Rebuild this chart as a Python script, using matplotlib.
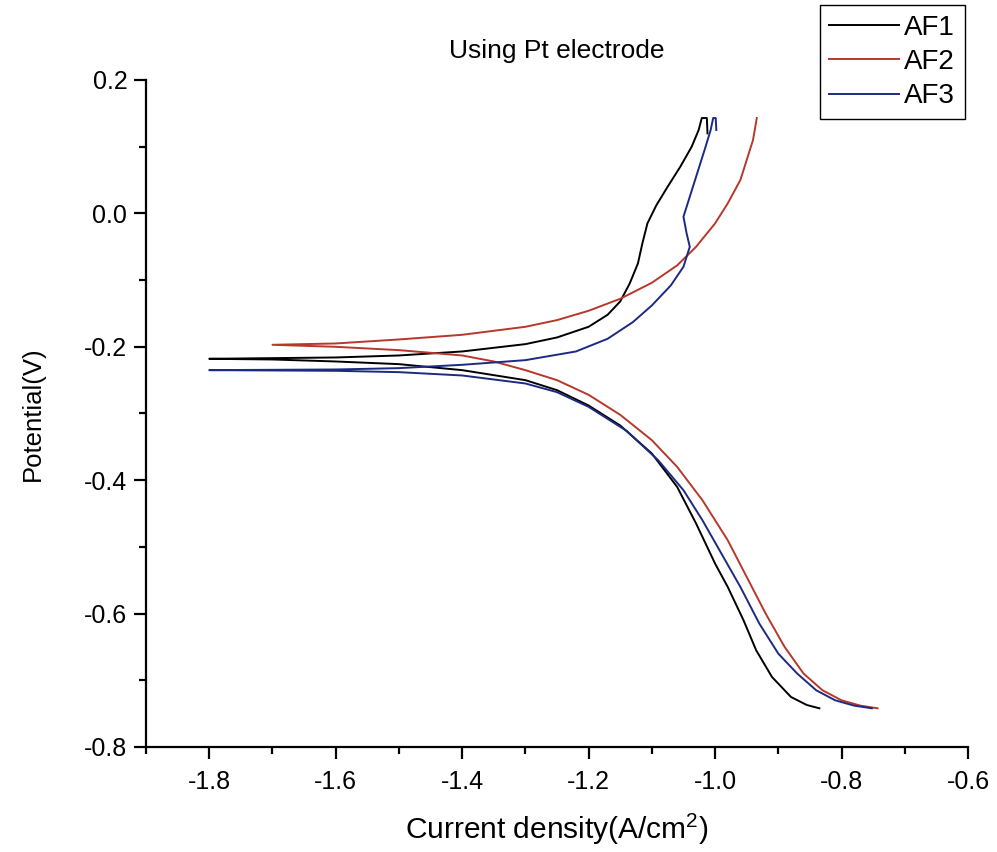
import matplotlib
matplotlib.use("Agg")
import matplotlib.pyplot as plt
from matplotlib.ticker import MultipleLocator

plt.rcParams['font.family'] = ['Liberation Sans', 'DejaVu Sans']
plt.rcParams['axes.unicode_minus'] = False
plt.rcParams['mathtext.fontset'] = 'custom'
plt.rcParams['mathtext.rm'] = 'Liberation Sans'
plt.rcParams['mathtext.default'] = 'regular'

# each curve: cathodic branch (bottom -> corrosion tip), then anodic branch (tip -> top)
af1_x = [-0.835, -0.855, -0.88, -0.91, -0.935, -0.955, -0.98, -1.00, -1.03, -1.06,
         -1.10, -1.15, -1.20, -1.25, -1.30, -1.40, -1.50, -1.60, -1.70, -1.80,
         -1.70, -1.60, -1.50, -1.40, -1.30, -1.25, -1.20, -1.17, -1.15, -1.135,
         -1.122, -1.115, -1.107, -1.093, -1.075, -1.055, -1.037, -1.026, -1.021, -1.013, -1.012]
af1_y = [-0.742, -0.737, -0.725, -0.695, -0.655, -0.610, -0.560, -0.525, -0.465, -0.410,
         -0.360, -0.318, -0.288, -0.265, -0.250, -0.235, -0.226, -0.222, -0.219, -0.218,
         -0.217, -0.216, -0.213, -0.207, -0.196, -0.186, -0.170, -0.152, -0.132, -0.105,
         -0.075, -0.045, -0.015, 0.012, 0.040, 0.070, 0.100, 0.125, 0.143, 0.143, 0.120]

af2_x = [-0.743, -0.77, -0.80, -0.83, -0.86, -0.89, -0.92, -0.95, -0.98, -1.02,
         -1.06, -1.10, -1.15, -1.20, -1.25, -1.30, -1.35, -1.40, -1.50, -1.60, -1.70,
         -1.60, -1.50, -1.40, -1.30, -1.25, -1.20, -1.15, -1.10, -1.06, -1.03,
         -1.00, -0.98, -0.96, -0.95, -0.94, -0.934]
af2_y = [-0.742, -0.738, -0.730, -0.715, -0.690, -0.650, -0.600, -0.545, -0.490, -0.430,
         -0.380, -0.340, -0.302, -0.272, -0.250, -0.235, -0.222, -0.213, -0.205, -0.200, -0.197,
         -0.195, -0.189, -0.182, -0.170, -0.160, -0.146, -0.128, -0.104, -0.078, -0.050,
         -0.015, 0.015, 0.050, 0.080, 0.110, 0.143]

af3_x = [-0.752, -0.78, -0.81, -0.84, -0.87, -0.90, -0.93, -0.96, -0.99, -1.02,
         -1.05, -1.09, -1.14, -1.20, -1.25, -1.30, -1.40, -1.50, -1.60, -1.80,
         -1.60, -1.50, -1.40, -1.30, -1.22, -1.17, -1.13, -1.10, -1.07, -1.05,
         -1.04, -1.045, -1.05, -1.045, -1.035, -1.025, -1.015, -1.007, -1.003, -0.999, -0.998]
af3_y = [-0.742, -0.738, -0.730, -0.715, -0.690, -0.660, -0.615, -0.560, -0.510, -0.460,
         -0.415, -0.370, -0.326, -0.290, -0.268, -0.255, -0.243, -0.238, -0.236, -0.235,
         -0.234, -0.232, -0.227, -0.220, -0.207, -0.188, -0.163, -0.138, -0.108, -0.080,
         -0.050, -0.030, -0.005, 0.010, 0.040, 0.070, 0.100, 0.125, 0.143, 0.143, 0.125]

labels = ['AF1', 'AF2', 'AF3']
colors = ['#000000', '#b5382b', '#1c2a80']

fig = plt.figure(figsize=(9.97, 8.52), dpi=100)
ax = fig.add_axes([146 / 997, 1 - 747 / 852, (968 - 146) / 997, (747 - 80) / 852])

for xs, ys, lab, c in zip([af1_x, af2_x, af3_x], [af1_y, af2_y, af3_y], labels, colors):
    ax.plot(xs, ys, color=c, lw=1.4, label=lab)

ax.set_xlim(-1.9, -0.6)
ax.set_ylim(-0.8, 0.2)
ax.xaxis.set_major_locator(MultipleLocator(0.2))
ax.xaxis.set_minor_locator(MultipleLocator(0.1))
ax.yaxis.set_major_locator(MultipleLocator(0.2))
ax.yaxis.set_minor_locator(MultipleLocator(0.1))
ax.xaxis.set_major_formatter(plt.FuncFormatter(lambda v, p: f'{v:.1f}'))
ax.yaxis.set_major_formatter(plt.FuncFormatter(lambda v, p: f'{v:.1f}'))

for s in ['top', 'right']:
    ax.spines[s].set_visible(False)
for s in ['left', 'bottom']:
    ax.spines[s].set_linewidth(1.6)
ax.tick_params(which='major', direction='out', length=8.5, width=1.6, labelsize=18)
ax.tick_params(which='minor', direction='out', length=5, width=1.6)
ax.tick_params(axis='x', which='major', pad=8)
ax.tick_params(axis='y', which='major', pad=5)

ax.set_title('Using Pt electrode', fontsize=19, pad=16)
ax.set_xlabel('Current density(A/cm$^2$)', fontsize=21.5)
ax.set_ylabel('Potential(V)', fontsize=18.5)
ax.xaxis.set_label_coords(0.5, (747 - 812) / 667)
ax.yaxis.set_label_coords((45 - 146) / 822, 0.5)

fig.legend(loc='upper right', bbox_to_anchor=(965 / 997, 1 - 5 / 852),
           fontsize=20, frameon=True, fancybox=False, edgecolor='black',
           framealpha=1, borderaxespad=0, handlelength=2.5, labelspacing=0.3,
           handletextpad=0.2, borderpad=0.35)

fig.savefig('out.png', dpi=100)
